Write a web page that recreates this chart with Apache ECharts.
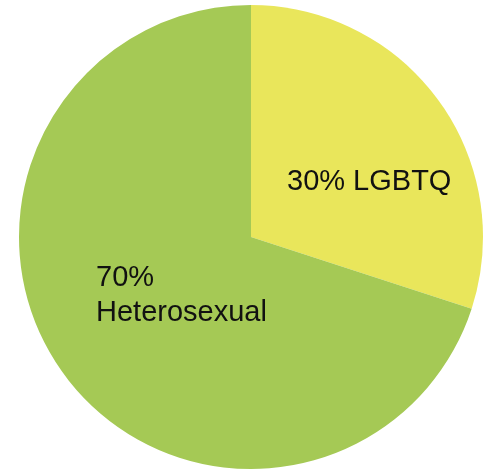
<!DOCTYPE html>
<html>
<head>
<meta charset="utf-8">
<script src="https://cdn.jsdelivr.net/npm/echarts@6/dist/echarts.min.js"></script>
<style>
html,body{margin:0;padding:0;background:#fff;}
#chart{width:487px;height:472px;}
</style>
</head>
<body>
<div id="chart"></div>
<script>
const categories = ["LGBTQ", "Heterosexual"];
const values = [30, 70];
const colors = ["#e9e65b", "#a5c955"];
const separators = [" ", "\n"];

const chart = echarts.init(document.getElementById('chart'), null, {renderer: 'canvas'});
const labelSpots = [
  {x: 287, y: 182},
  {x: 96, y: 295}
];
chart.setOption({
  animation: false,
  series: [{
    type: 'pie',
    center: [251, 237],
    radius: 232,
    startAngle: 90,
    clockwise: true,
    silent: true,
    data: categories.map((c, i) => ({name: c, value: values[i], itemStyle: {color: colors[i]}})),
    itemStyle: {borderWidth: 0},
    label: {
      show: true,
      position: 'inside',
      formatter: p => p.value + '%' + separators[p.dataIndex] + p.name,
      fontFamily: 'Liberation Sans, Arial, sans-serif',
      fontSize: 29,
      lineHeight: 35,
      color: '#111',
      align: 'left'
    },
    labelLine: {show: false},
    labelLayout: function (params) {
      const s = labelSpots[params.dataIndex];
      return {x: s.x, y: s.y, align: 'left', verticalAlign: 'middle'};
    }
  }]
});
</script>
</body>
</html>
